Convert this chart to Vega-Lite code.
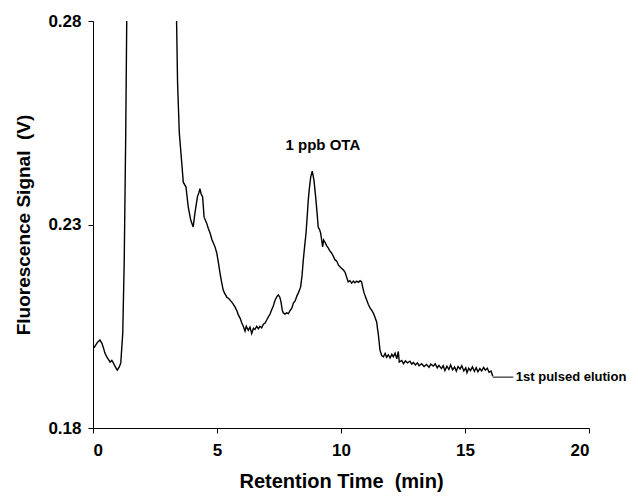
{
  "$schema": "https://vega.github.io/schema/vega-lite/v6.json",
  "width": 496,
  "height": 407,
  "autosize": {"type": "none"},
  "padding": {"left": 93, "top": 21, "right": 49, "bottom": 69},
  "background": "white",
  "config": {
    "view": {"stroke": null},
    "font": "Liberation Sans",
    "axis": {
      "grid": false,
      "domainColor": "black",
      "tickColor": "black",
      "labelColor": "black",
      "titleColor": "black",
      "labelFont": "Liberation Sans",
      "titleFont": "Liberation Sans",
      "labelFontWeight": "bold",
      "titleFontWeight": "bold",
      "labelFontSize": 17,
      "titleFontSize": 19,
      "tickSize": 5,
      "domainWidth": 1,
      "tickWidth": 1
    }
  },
  "datasets": {
    "trace": [
      {"t": 0.04, "v": 0.1997}, {"t": 0.12, "v": 0.2005}, {"t": 0.2, "v": 0.2012}, {"t": 0.28, "v": 0.2016},
      {"t": 0.36, "v": 0.2008}, {"t": 0.43, "v": 0.1995}, {"t": 0.48, "v": 0.1984}, {"t": 0.58, "v": 0.1972},
      {"t": 0.64, "v": 0.1967}, {"t": 0.69, "v": 0.1962}, {"t": 0.76, "v": 0.1966}, {"t": 0.82, "v": 0.1960},
      {"t": 0.9, "v": 0.1950}, {"t": 0.98, "v": 0.1942}, {"t": 1.06, "v": 0.1950}, {"t": 1.12, "v": 0.196},
      {"t": 1.2, "v": 0.2033}, {"t": 1.26, "v": 0.2213}, {"t": 1.32, "v": 0.2525}, {"t": 1.36, "v": 0.28},
      {"t": 1.4, "v": 0.31}, {"t": 2.3, "v": 0.5}, {"t": 3.3, "v": 0.31},
      {"t": 3.37, "v": 0.28}, {"t": 3.41, "v": 0.2648}, {"t": 3.48, "v": 0.2525}, {"t": 3.57, "v": 0.2458},
      {"t": 3.64, "v": 0.2404}, {"t": 3.75, "v": 0.2392}, {"t": 3.84, "v": 0.2343}, {"t": 3.94, "v": 0.2311},
      {"t": 4.04, "v": 0.2294}, {"t": 4.11, "v": 0.2328}, {"t": 4.21, "v": 0.2368}, {"t": 4.27, "v": 0.2378},
      {"t": 4.31, "v": 0.2388}, {"t": 4.36, "v": 0.2375}, {"t": 4.42, "v": 0.2368}, {"t": 4.48, "v": 0.2318},
      {"t": 4.58, "v": 0.2304}, {"t": 4.65, "v": 0.2290}, {"t": 4.72, "v": 0.2279}, {"t": 4.8, "v": 0.2262},
      {"t": 4.85, "v": 0.2255}, {"t": 4.92, "v": 0.2245}, {"t": 4.99, "v": 0.2230}, {"t": 5.06, "v": 0.2205},
      {"t": 5.12, "v": 0.2181}, {"t": 5.18, "v": 0.2160}, {"t": 5.25, "v": 0.2139}, {"t": 5.3, "v": 0.2132},
      {"t": 5.39, "v": 0.2122}, {"t": 5.47, "v": 0.2118}, {"t": 5.59, "v": 0.2110}, {"t": 5.66, "v": 0.2104},
      {"t": 5.73, "v": 0.2097}, {"t": 5.8, "v": 0.2088}, {"t": 5.86, "v": 0.2078}, {"t": 5.93, "v": 0.2070},
      {"t": 6.0, "v": 0.2058}, {"t": 6.06, "v": 0.2050}, {"t": 6.13, "v": 0.2038}, {"t": 6.18, "v": 0.2050},
      {"t": 6.26, "v": 0.2040}, {"t": 6.33, "v": 0.2048}, {"t": 6.4, "v": 0.2032}, {"t": 6.47, "v": 0.2045},
      {"t": 6.53, "v": 0.2042}, {"t": 6.6, "v": 0.2050}, {"t": 6.67, "v": 0.2044}, {"t": 6.73, "v": 0.2050},
      {"t": 6.8, "v": 0.2046}, {"t": 6.87, "v": 0.2055}, {"t": 6.94, "v": 0.2058}, {"t": 7.01, "v": 0.2066},
      {"t": 7.07, "v": 0.2073}, {"t": 7.14, "v": 0.2080}, {"t": 7.2, "v": 0.2090}, {"t": 7.27, "v": 0.2100},
      {"t": 7.34, "v": 0.2114}, {"t": 7.41, "v": 0.2122}, {"t": 7.47, "v": 0.2127}, {"t": 7.53, "v": 0.2122},
      {"t": 7.58, "v": 0.2110}, {"t": 7.63, "v": 0.2090}, {"t": 7.67, "v": 0.2083}, {"t": 7.74, "v": 0.2080},
      {"t": 7.81, "v": 0.2083}, {"t": 7.88, "v": 0.2081}, {"t": 7.94, "v": 0.2088}, {"t": 8.02, "v": 0.2095},
      {"t": 8.08, "v": 0.2107}, {"t": 8.15, "v": 0.2112}, {"t": 8.22, "v": 0.2124}, {"t": 8.28, "v": 0.2132},
      {"t": 8.37, "v": 0.2146}, {"t": 8.43, "v": 0.2175}, {"t": 8.48, "v": 0.2213}, {"t": 8.54, "v": 0.2250},
      {"t": 8.59, "v": 0.2279}, {"t": 8.64, "v": 0.2322}, {"t": 8.68, "v": 0.2360}, {"t": 8.73, "v": 0.2392},
      {"t": 8.78, "v": 0.2417}, {"t": 8.84, "v": 0.2431}, {"t": 8.91, "v": 0.2409}, {"t": 8.95, "v": 0.2385},
      {"t": 8.99, "v": 0.2360}, {"t": 9.04, "v": 0.2325}, {"t": 9.08, "v": 0.2294}, {"t": 9.13, "v": 0.2288},
      {"t": 9.18, "v": 0.2279}, {"t": 9.22, "v": 0.2262}, {"t": 9.26, "v": 0.2245}, {"t": 9.3, "v": 0.2262},
      {"t": 9.35, "v": 0.2257}, {"t": 9.42, "v": 0.2248}, {"t": 9.49, "v": 0.2242}, {"t": 9.55, "v": 0.2235},
      {"t": 9.62, "v": 0.2230}, {"t": 9.69, "v": 0.2222}, {"t": 9.76, "v": 0.2213}, {"t": 9.83, "v": 0.2210},
      {"t": 9.9, "v": 0.2200}, {"t": 9.96, "v": 0.2196}, {"t": 10.03, "v": 0.2192}, {"t": 10.1, "v": 0.2188},
      {"t": 10.16, "v": 0.2183}, {"t": 10.22, "v": 0.2172}, {"t": 10.29, "v": 0.2159}, {"t": 10.36, "v": 0.2162},
      {"t": 10.43, "v": 0.2156}, {"t": 10.5, "v": 0.2161}, {"t": 10.56, "v": 0.2157}, {"t": 10.63, "v": 0.2161},
      {"t": 10.7, "v": 0.2158}, {"t": 10.77, "v": 0.2162}, {"t": 10.83, "v": 0.2159}, {"t": 10.88, "v": 0.2145},
      {"t": 10.93, "v": 0.2132}, {"t": 10.98, "v": 0.2124}, {"t": 11.04, "v": 0.2114}, {"t": 11.1, "v": 0.2104},
      {"t": 11.17, "v": 0.2095}, {"t": 11.23, "v": 0.2090}, {"t": 11.3, "v": 0.2083}, {"t": 11.37, "v": 0.2072},
      {"t": 11.44, "v": 0.2060}, {"t": 11.47, "v": 0.2045}, {"t": 11.5, "v": 0.2033}, {"t": 11.54, "v": 0.2010},
      {"t": 11.57, "v": 0.1992}, {"t": 11.64, "v": 0.1978}, {"t": 11.71, "v": 0.1975}, {"t": 11.78, "v": 0.1983},
      {"t": 11.84, "v": 0.1974}, {"t": 11.91, "v": 0.1980}, {"t": 11.98, "v": 0.1972}, {"t": 12.05, "v": 0.1981},
      {"t": 12.11, "v": 0.1975}, {"t": 12.18, "v": 0.1984}, {"t": 12.25, "v": 0.1970}, {"t": 12.31, "v": 0.1988},
      {"t": 12.35, "v": 0.1962}, {"t": 12.45, "v": 0.1966}, {"t": 12.52, "v": 0.1958}, {"t": 12.6, "v": 0.1965},
      {"t": 12.68, "v": 0.1960}, {"t": 12.78, "v": 0.1964}, {"t": 12.85, "v": 0.1957}, {"t": 12.92, "v": 0.1961},
      {"t": 13.0, "v": 0.1955}, {"t": 13.08, "v": 0.1960}, {"t": 13.15, "v": 0.1953}, {"t": 13.25, "v": 0.1958},
      {"t": 13.35, "v": 0.1951}, {"t": 13.45, "v": 0.1956}, {"t": 13.55, "v": 0.1949}, {"t": 13.62, "v": 0.1957},
      {"t": 13.72, "v": 0.1952}, {"t": 13.8, "v": 0.1958}, {"t": 13.88, "v": 0.1948}, {"t": 13.95, "v": 0.1954},
      {"t": 14.05, "v": 0.1946}, {"t": 14.12, "v": 0.1953}, {"t": 14.19, "v": 0.1941}, {"t": 14.27, "v": 0.1952},
      {"t": 14.35, "v": 0.1944}, {"t": 14.42, "v": 0.1955}, {"t": 14.5, "v": 0.1943}, {"t": 14.58, "v": 0.1950},
      {"t": 14.65, "v": 0.1940}, {"t": 14.72, "v": 0.1951}, {"t": 14.8, "v": 0.1945}, {"t": 14.87, "v": 0.1953},
      {"t": 14.95, "v": 0.1940}, {"t": 15.03, "v": 0.1948}, {"t": 15.08, "v": 0.1936}, {"t": 15.15, "v": 0.1947},
      {"t": 15.22, "v": 0.1941}, {"t": 15.3, "v": 0.1950}, {"t": 15.38, "v": 0.1939}, {"t": 15.45, "v": 0.1948},
      {"t": 15.52, "v": 0.1938}, {"t": 15.6, "v": 0.1946}, {"t": 15.67, "v": 0.1940}, {"t": 15.75, "v": 0.1949},
      {"t": 15.82, "v": 0.1942}, {"t": 15.9, "v": 0.1947}, {"t": 15.97, "v": 0.1937}, {"t": 16.05, "v": 0.1940},
      {"t": 16.12, "v": 0.1927}
    ],
    "leader": [{"t": 16.12, "t2": 16.95, "v": 0.1925}],
    "labels": [
      {"t": 9.27, "v": 0.2495, "text": "1 ppb OTA", "kind": "peak"},
      {"t": 17.05, "v": 0.1925, "text": "1st pulsed elution", "kind": "elution"}
    ]
  },
  "layer": [
    {
      "data": {"name": "trace"},
      "mark": {"type": "line", "color": "black", "strokeWidth": 1.4, "clip": true, "interpolate": "linear"},
      "encoding": {
        "x": {
          "field": "t", "type": "quantitative",
          "scale": {"domain": [0, 20], "nice": false, "zero": false},
          "axis": {
            "values": [0, 5, 10, 15, 20],
            "title": "Retention Time\u00a0 (min)",
            "titleFontSize": 20,
            "labelPadding": 9,
            "titlePadding": 13
          }
        },
        "y": {
          "field": "v", "type": "quantitative",
          "scale": {"domain": [0.18, 0.28], "nice": false, "zero": false},
          "axis": {
            "values": [0.18, 0.23, 0.28],
            "format": ".2f",
            "title": "Fluorescence Signal\u00a0 (V)",
            "labelPadding": 7,
            "titlePadding": 14
          }
        }
      }
    },
    {
      "data": {"name": "leader"},
      "mark": {"type": "rule", "color": "black", "strokeWidth": 1},
      "encoding": {
        "x": {"field": "t", "type": "quantitative"},
        "x2": {"field": "t2"},
        "y": {"field": "v", "type": "quantitative"}
      }
    },
    {
      "data": {"name": "labels"},
      "transform": [{"filter": "datum.kind == 'peak'"}],
      "mark": {"type": "text", "font": "Liberation Sans", "fontWeight": "bold", "fontSize": 15, "align": "center", "baseline": "middle", "color": "black"},
      "encoding": {
        "x": {"field": "t", "type": "quantitative"},
        "y": {"field": "v", "type": "quantitative"},
        "text": {"field": "text"}
      }
    },
    {
      "data": {"name": "labels"},
      "transform": [{"filter": "datum.kind == 'elution'"}],
      "mark": {"type": "text", "font": "Liberation Sans", "fontWeight": "bold", "fontSize": 13, "align": "left", "baseline": "middle", "color": "black"},
      "encoding": {
        "x": {"field": "t", "type": "quantitative"},
        "y": {"field": "v", "type": "quantitative"},
        "text": {"field": "text"}
      }
    }
  ]
}
